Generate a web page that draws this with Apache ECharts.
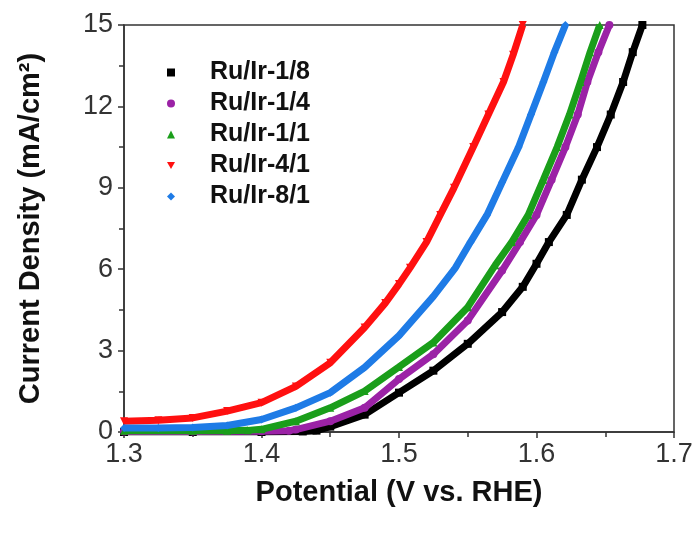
<!DOCTYPE html>
<html><head><meta charset="utf-8">
<script src="https://cdn.jsdelivr.net/npm/echarts@6/dist/echarts.min.js"></script>
<style>html,body{margin:0;padding:0;background:#fff}#c{width:697px;height:533px}</style>
</head><body><div id="c"></div>
<script>
const seriesNames = ['Ru/Ir-1/8','Ru/Ir-1/4','Ru/Ir-1/1','Ru/Ir-4/1','Ru/Ir-8/1'];
const xTicks = [1.3,1.4,1.5,1.6,1.7];
const yTicks = [0,3,6,9,12,15];

const pot_1_8 = [1.30,1.35,1.40,1.43,1.44,1.45,1.475,1.50,1.525,1.55,1.575,1.59,1.60,1.609,1.622,1.633,1.644,1.654,1.663,1.670,1.677];
const cur_1_8 = [0.0,0.0,0.0,0.02,0.05,0.2,0.64,1.45,2.26,3.25,4.42,5.35,6.2,7.0,8.0,9.3,10.5,11.7,12.9,14.0,15.0];

const pot_1_4 = [1.30,1.35,1.40,1.42,1.425,1.45,1.475,1.50,1.525,1.55,1.575,1.588,1.600,1.611,1.621,1.630,1.637,1.645,1.653];
const cur_1_4 = [0.02,0.02,0.03,0.05,0.09,0.40,0.89,1.95,2.87,4.11,5.95,7.0,8.0,9.3,10.5,11.7,12.9,14.0,15.0];

const pot_1_1 = [1.30,1.35,1.375,1.39,1.40,1.425,1.45,1.475,1.50,1.525,1.55,1.57,1.582,1.594,1.605,1.615,1.624,1.632,1.639,1.646];
const cur_1_1 = [0.05,0.05,0.05,0.06,0.10,0.40,0.89,1.51,2.4,3.3,4.6,6.15,7.0,8.0,9.3,10.5,11.7,12.9,14.0,15.0];

const pot_4_1 = [1.30,1.325,1.35,1.375,1.40,1.425,1.45,1.475,1.49,1.50,1.508,1.52,1.53,1.54,1.554,1.565,1.576,1.583,1.590];
const cur_4_1 = [0.40,0.43,0.52,0.77,1.08,1.68,2.55,3.85,4.75,5.45,6.05,7.0,8.0,9.0,10.5,11.7,12.9,13.9,15.0];

const pot_8_1 = [1.30,1.325,1.35,1.375,1.40,1.425,1.45,1.475,1.50,1.525,1.541,1.552,1.564,1.575,1.587,1.596,1.605,1.613,1.621];
const cur_8_1 = [0.15,0.15,0.17,0.24,0.46,0.89,1.45,2.38,3.55,5.0,6.05,7.0,8.0,9.2,10.5,11.7,12.9,14.0,15.0];

const colors = ['#000000','#9b22a6','#1a9e1a','#ff1010','#1e7be6'];
const symbols = ['rect','circle','triangle','path://M0,0 L10,0 L5,9 Z','diamond'];
const pots = [pot_1_8,pot_1_4,pot_1_1,pot_4_1,pot_8_1];
const curs = [cur_1_8,cur_1_4,cur_1_1,cur_4_1,cur_8_1];

const zip = (a,b)=>a.map((v,i)=>[v,b[i]]);
const font = 'Liberation Sans, Arial, sans-serif';

const chart = echarts.init(document.getElementById('c'));
chart.setOption({
  animation:false,
  grid:{left:124,right:23,top:25,bottom:101,show:true,borderColor:'#333',borderWidth:1.5,backgroundColor:'transparent'},
  legend:{
    orient:'vertical',left:162,top:55,itemGap:6,itemWidth:8,itemHeight:8,
    data:seriesNames.map((n,i)=>({name:n,icon:symbols[i]})),
    textStyle:{fontFamily:font,fontSize:25,fontWeight:'bold',color:'#111',padding:[0,0,0,30]}
  },
  xAxis:{
    type:'value',min:1.3,max:1.7,interval:0.1,
    name:'Potential (V vs. RHE)',nameLocation:'middle',nameGap:46,
    nameTextStyle:{fontFamily:font,fontSize:29,fontWeight:'bold',color:'#111'},
    axisLine:{show:true,onZero:false,lineStyle:{color:'#333',width:1.5}},
    axisTick:{show:true,length:6,lineStyle:{color:'#333',width:1.5}},
    minorTick:{show:true,splitNumber:2,length:5,lineStyle:{color:'#333',width:1.5}},
    splitLine:{show:false},
    axisLabel:{fontFamily:font,fontSize:27,color:'#333',margin:9,formatter:v=>xTicks.includes(+v.toFixed(1))?v.toFixed(1):''}
  },
  yAxis:{
    type:'value',min:0,max:15,interval:3,
    name:'Current Density (mA/cm²)',nameLocation:'middle',nameGap:79,
    nameTextStyle:{fontFamily:font,fontSize:29,fontWeight:'bold',color:'#111'},
    axisLine:{show:true,lineStyle:{color:'#333',width:1.5}},
    axisTick:{show:true,length:6,lineStyle:{color:'#333',width:1.5}},
    minorTick:{show:true,splitNumber:2,length:5,lineStyle:{color:'#333',width:1.5}},
    splitLine:{show:false},
    axisLabel:{fontFamily:font,fontSize:27,color:'#333',margin:11,formatter:v=>yTicks.includes(v)?String(v):''}
  },
  series:[0,1,2,3,4].map(i=>({
    name:seriesNames[i],type:'line',data:zip(pots[i],curs[i]),
    color:colors[i],symbol:symbols[i],symbolSize:8,showSymbol:true,
    lineStyle:{width:7,color:colors[i]},itemStyle:{color:colors[i]},
    clip:true,z:[1,2,3,4,5][i]
  }))
});
</script></body></html>
